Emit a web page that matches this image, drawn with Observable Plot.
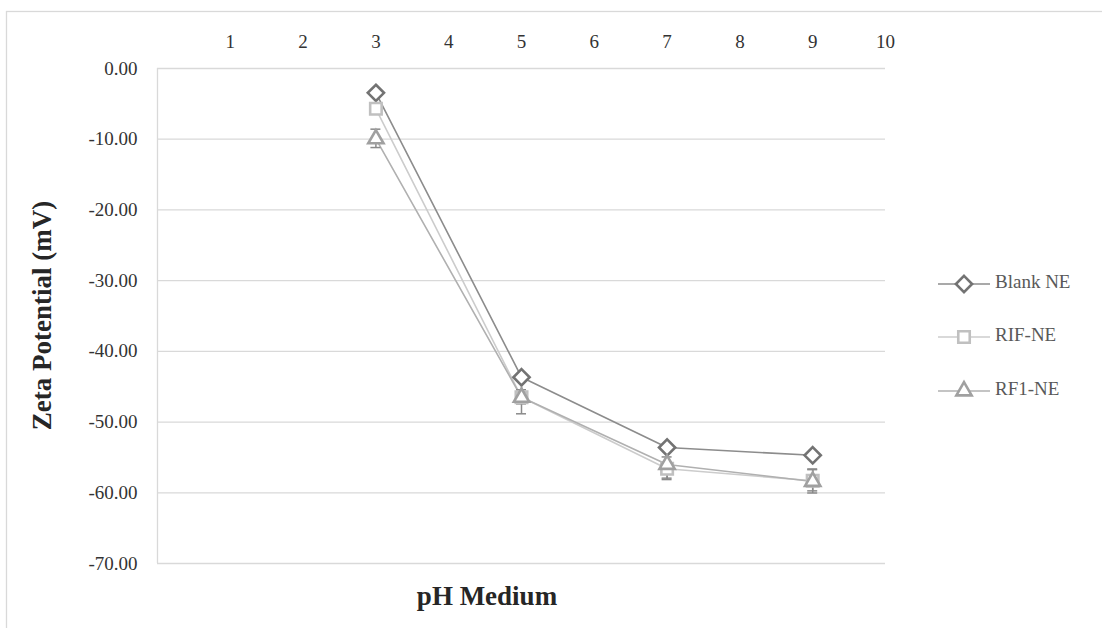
<!DOCTYPE html>
<html>
<head>
<meta charset="utf-8">
<script src="https://cdn.jsdelivr.net/npm/d3@7"></script>
<script src="https://cdn.jsdelivr.net/npm/@observablehq/plot@0.6"></script>
<style>
  html, body { margin: 0; padding: 0; background: #fff; }
  #chart { position: relative; width: 1102px; height: 628px; overflow: hidden; }
</style>
</head>
<body>
<div id="chart"></div>
<script>
// ---- data ----
const pH = [3, 5, 7, 9];
const seriesNames = ["Blank NE", "RIF-NE", "RF1-NE"];
const blankNE = [-3.44, -43.66, -53.6, -54.7];
const rifNE = [-5.7, -46.5, -56.6, -58.3];
const rf1NE = [-9.95, -46.5, -56.0, -58.4];
const rifErr = [0.5, 1.0, 1.6, 1.5];
const rf1Err = [1.3, 2.4, 2.0, 1.7];
const xTicks = [1, 2, 3, 4, 5, 6, 7, 8, 9, 10];
const yTicks = [0, -10, -20, -30, -40, -50, -60, -70];

// ---- styles ----
const FONT = "'Liberation Serif', Tinos, 'DejaVu Serif', serif";
const colors = {"Blank NE": "#737373", "RIF-NE": "#c0c0c0", "RF1-NE": "#a0a0a0"};
const lineColors = {"Blank NE": "#8c8c8c", "RIF-NE": "#cccccc", "RF1-NE": "#b0b0b0"};
const symbols = {"Blank NE": "diamond2", "RIF-NE": "square2", "RF1-NE": "triangle2"};

const values = {"Blank NE": blankNE, "RIF-NE": rifNE, "RF1-NE": rf1NE};
const errs = {"Blank NE": null, "RIF-NE": rifErr, "RF1-NE": rf1Err};
const rows = [];
for (const s of seriesNames) {
  pH.forEach((p, i) => rows.push({series: s, pH: p, zeta: values[s][i], err: errs[s] ? errs[s][i] : 0}));
}
const errRows = rows.filter(d => d.err > 0);

const W = 1102, H = 628;
const mL = 157, mR = W - 885, mT = 68, mB = H - 563;
const R = 7.3;

const plot = Plot.plot({
  width: W, height: H,
  marginLeft: mL, marginRight: mR, marginTop: mT, marginBottom: mB,
  style: `font-family: ${FONT}; font-size: 18px; color: #404040; background: #fff; overflow: visible;`,
  x: {type: "linear", domain: [0, 10], axis: null},
  y: {type: "linear", domain: [-70, 0], axis: null},
  marks: [
    Plot.gridY(yTicks, {stroke: "#d9d9d9", strokeOpacity: 1, strokeWidth: 1.3}),
    Plot.ruleX([0], {stroke: "#d9d9d9", strokeWidth: 1.3}),
    Plot.axisX(xTicks, {anchor: "top", tickSize: 0, tickPadding: 21, fontSize: 19, fill: "#333333", tickFormat: d => String(d), label: null}),
    Plot.axisY(yTicks, {anchor: "left", tickSize: 0, tickPadding: 20, fontSize: 19, fill: "#333333", tickFormat: d => d.toFixed(2), label: null}),
    Plot.line(rows, {x: "pH", y: "zeta", z: "series", stroke: d => lineColors[d.series], strokeWidth: 1.6}),
    Plot.ruleX(errRows, {x: "pH", y1: d => d.zeta - d.err, y2: d => d.zeta + d.err, stroke: "#8a8a8a", strokeWidth: 1.5}),
    Plot.dot(rows, {x: "pH", y: "zeta", symbol: d => symbols[d.series], stroke: d => colors[d.series], fill: "white", strokeWidth: 2.6, r: R})
  ]
});

const svg = d3.select(plot);
const xs = plot.scale("x"), ys = plot.scale("y");
// error caps
const caps = svg.append("g");
errRows.forEach(d => {
  [d.zeta - d.err, d.zeta + d.err].forEach(v => {
    caps.append("line")
      .attr("x1", xs.apply(d.pH) - 5).attr("x2", xs.apply(d.pH) + 5)
      .attr("y1", ys.apply(v)).attr("y2", ys.apply(v))
      .attr("stroke", "#8a8a8a").attr("stroke-width", 1.5);
  });
});
// redraw dots on top of caps
const dotsG = plot.querySelector('[aria-label="dot"]');
if (dotsG) plot.appendChild(dotsG);

// outer chart border
svg.insert("rect", ":first-child")
  .attr("x", 6.5).attr("y", 11.5).attr("width", 1110).attr("height", 640)
  .attr("fill", "none").attr("stroke", "#d9d9d9").attr("stroke-width", 1.3);

// axis titles
svg.append("text")
  .attr("transform", `translate(45, ${(mT + (H - mB)) / 2}) rotate(-90)`)
  .attr("text-anchor", "middle").attr("dominant-baseline", "middle")
  .attr("font-size", 27).attr("font-weight", "bold").attr("fill", "#262626")
  .text("Zeta Potential (mV)");
svg.append("text")
  .attr("x", 487).attr("y", 599)
  .attr("text-anchor", "middle").attr("dominant-baseline", "middle")
  .attr("font-size", 27).attr("font-weight", "bold").attr("fill", "#262626")
  .text("pH Medium");

// legend
const leg = svg.append("g");
const legY = [284, 337, 391];
seriesNames.forEach((s, i) => {
  const y = legY[i];
  leg.append("line").attr("x1", 938).attr("x2", 990).attr("y1", y).attr("y2", y)
    .attr("stroke", lineColors[s]).attr("stroke-width", 1.6);
  const sym = {"Blank NE": d3.symbolDiamond2, "RIF-NE": d3.symbolSquare2, "RF1-NE": d3.symbolTriangle2}[s];
  leg.append("path").attr("d", d3.symbol(sym, Math.PI * R * R)())
    .attr("transform", `translate(964, ${y})`)
    .attr("fill", "white").attr("stroke", colors[s]).attr("stroke-width", 2.6);
  leg.append("text").attr("x", 995).attr("y", y).attr("dominant-baseline", "middle")
    .attr("text-anchor", "start")
    .attr("font-size", 19).attr("fill", "#595959").text(s);
});

svg.selectAll("text").style("font-family", FONT).attr("font-family", FONT);

document.getElementById("chart").appendChild(plot);
</script>
</body>
</html>
